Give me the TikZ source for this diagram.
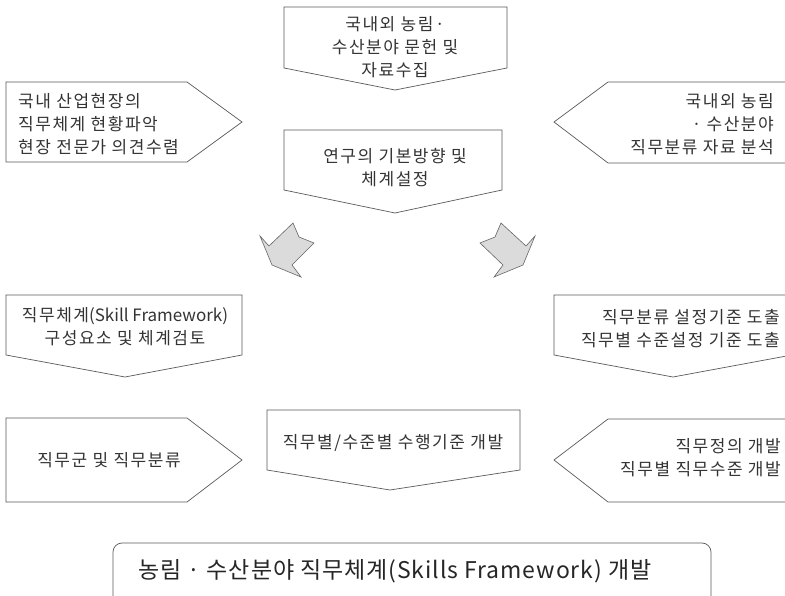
\documentclass[tikz,border=0pt]{standalone}
\usepackage{fontspec}
\setmainfont{Noto Sans CJK KR}
\newfontfamily\boxfont[LetterSpace=9]{Noto Sans CJK KR}
\newfontfamily\titlefont[LetterSpace=4]{Noto Sans CJK KR}

\begin{document}
\begin{tikzpicture}[x=1pt,y=-1pt,
  box/.style={draw=black!65,line width=0.7pt,line join=miter},
  bigarrow/.style={draw=black!60,fill=black!14,line width=0.6pt},
  txt/.style={inner sep=0pt,font=\boxfont\fontsize{17}{23}\selectfont,text=black!80},
  bigtxt/.style={inner sep=0pt,font=\titlefont\fontsize{23}{28}\selectfont,text=black!85}]
  \clip (0,0) rectangle (785,596);
  % outlines
  \draw[box] (284,7) -- (507,7) -- (507,68) -- (395,90) -- (284,68) -- cycle;
  \draw[box] (6,82) -- (187,82) -- (242,122) -- (187,162) -- (6,162) -- cycle;
  \draw[box] (792,82) -- (608,82) -- (554,122) -- (608,163) -- (792,163) -- cycle;
  \draw[box] (284,130) -- (502,130) -- (502,190) -- (395,213) -- (284,190) -- cycle;
  \draw[bigarrow] (293,223) -- (299,237) -- (314,243) -- (292,265) -- (301,277) -- (272,265) -- (260,236) -- (269,246) -- cycle;
  \draw[bigarrow] (501,223) -- (495,237) -- (480,243) -- (503,265) -- (494,277) -- (523,265) -- (535,236) -- (526,246) -- cycle;
  \draw[box] (6,295) -- (242,295) -- (242,355) -- (125,377) -- (6,355) -- cycle;
  \draw[box] (554,295) -- (792,295) -- (792,355) -- (673,377) -- (554,355) -- cycle;
  \draw[box] (6,418) -- (187,418) -- (242,460) -- (187,502) -- (6,502) -- cycle;
  \draw[box] (267,410) -- (520,410) -- (520,470) -- (390,490) -- (267,470) -- cycle;
  \draw[box] (792,419) -- (608,419) -- (554,460) -- (608,502) -- (792,502) -- cycle;
  \draw[box,rounded corners=9pt] (113,543) rectangle (711,620);
  % texts
  \node[txt,align=center] (collect) at (395,47) {국내외 농림·\\수산분야 문헌 및\\자료수집};
  \node[txt,align=left,anchor=west] (site) at (18,124) {국내 산업현장의\\직무체계 현황파악\\현장 전문가 의견수렴};
  \node[txt,align=right,anchor=east] (abroad) at (774,124) {국내외 농림\\· 수산분야\\직무분류 자료 분석};
  \node[txt,align=center] (basic) at (395,168) {연구의 기본방향 및\\체계설정};
  \node[txt,align=center] (skillfw) at (125,327) {직무체계{\normalfont(Skill Framework)}\\구성요소 및 체계검토};
  \node[txt,align=right,anchor=east] (criteria) at (780,329) {직무분류 설정기준 도출\\직무별 수준설정 기준 도출};
  \node[txt] (jobclass) at (109,460) {직무군 및 직무분류};
  \node[txt] (standard) at (393,443) {직무별/수준별 수행기준 개발};
  \node[txt,align=right,anchor=east] (jobdef) at (781,458) {직무정의 개발\\직무별 직무수준 개발};
  \node[bigtxt] (final) at (395,571) {농림 · 수산분야 직무체계(Skills Framework) 개발};
\end{tikzpicture}
\end{document}
